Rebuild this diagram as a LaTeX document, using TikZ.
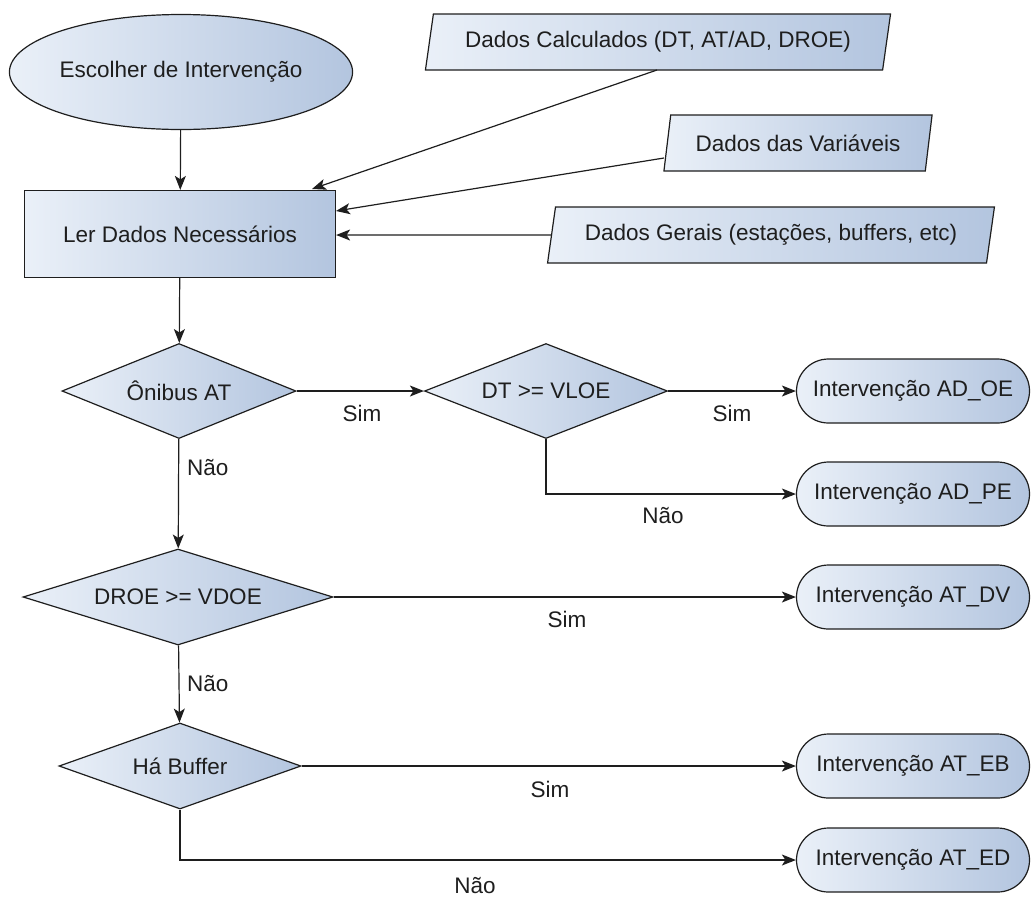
\documentclass[tikz,border=0pt]{standalone}
\usepackage{fontspec}
\setmainfont{Liberation Sans}
\usetikzlibrary{shapes.geometric,shapes.misc,arrows.meta}
\definecolor{boxlight}{HTML}{EAF0F8}
\definecolor{boxdark}{HTML}{B3C5DF}
\definecolor{ink}{HTML}{1E1E1E}
\begin{document}
\begin{tikzpicture}[x=1pt,y=-1pt,
  every node/.style={font=\fontsize{22.5}{26}\selectfont, text=ink},
  shaded/.style={draw=ink, line width=1.2pt, left color=boxlight, right color=boxdark, inner sep=0pt},
  startbox/.style={shaded, ellipse, minimum width=342pt, minimum height=115pt},
  procbox/.style={shaded, rectangle, minimum width=311pt, minimum height=87pt},
  databox/.style={shaded, trapezium, trapezium left angle=72, trapezium right angle=108,
                  trapezium stretches=true, minimum height=56pt},
  decision/.style={shaded, diamond},
  endbox/.style={shaded, rounded rectangle, minimum width=233pt, minimum height=64pt},
  flow/.style={draw=ink, line width=1.2pt, -{Stealth[length=14pt,width=11pt,inset=3.5pt]}},
  lbl/.style={inner sep=0pt}
]
\useasboundingbox (0,0) rectangle (1033,898);

% main column
\node[startbox] (start) at (181,72) {Escolher de Intervenção};
\node[procbox] (read) at (180,234) {Ler Dados Necessários};

% input data
\node[databox, minimum width=468pt] (calc) at (658,42) {Dados Calculados (DT, AT/AD, DROE)};
\node[databox, minimum width=269pt] (vars) at (798,143) {Dados das Variáveis};
\node[databox, minimum width=449pt] (gerais) at (771,235) {Dados Gerais (estações, buffers, etc)};

% decisions
\node[decision, shape aspect=2.46, minimum width=234pt, minimum height=95pt] (onibus) at (179,391) {Ônibus AT};
\node[decision, shape aspect=2.56, minimum width=243pt, minimum height=95pt] (dt) at (546,391) {DT >= VLOE};
\node[decision, shape aspect=3.23, minimum width=310pt, minimum height=96pt] (droe) at (178,597) {DROE >= VDOE};
\node[decision, shape aspect=2.81, minimum width=242pt, minimum height=86pt] (buffer) at (180,766) {Há Buffer};

% outcomes
\node[endbox] (adoe) at (913,391) {Intervenção AD\_OE};
\node[endbox] (adpe) at (913,494) {Intervenção AD\_PE};
\node[endbox] (atdv) at (913,597) {Intervenção AT\_DV};
\node[endbox] (ateb) at (913,766) {Intervenção AT\_EB};
\node[endbox] (ated) at (913,860) {Intervenção AT\_ED};

% data inputs into the reading step
\coordinate (c1) at (657,70);
\coordinate (c2) at (312,189);
\coordinate (v1) at (664,158);
\coordinate (v2) at (336,211);
\draw[flow] (c1) -- (c2);
\draw[flow] (v1) -- (v2);
\draw[flow] (gerais) -- (read.east |- gerais);

% flow
\draw[flow] (start) -- (read);
\draw[flow] (read) -- (onibus);
\draw[flow] (onibus) -- (dt);
\draw[flow] (dt) -- (adoe);
\draw[flow] (dt.south) |- (adpe);
\draw[flow] (onibus) -- (droe);
\draw[flow] (droe) -- (atdv);
\draw[flow] (droe) -- (buffer);
\draw[flow] (buffer) -- (ateb);
\draw[flow] (buffer.south) |- (ated);

% branch labels
\node[lbl] (l1) at (362,413) {Sim};
\node[lbl] (l2) at (732,413) {Sim};
\node[lbl] (l3) at (663,516) {Não};
\node[lbl, anchor=west] (l4) at (187,468) {Não};
\node[lbl] (l5) at (567,619) {Sim};
\node[lbl, anchor=west] (l6) at (187,684) {Não};
\node[lbl] (l7) at (550,789) {Sim};
\node[lbl] (l8) at (475,886) {Não};
\end{tikzpicture}
\end{document}
